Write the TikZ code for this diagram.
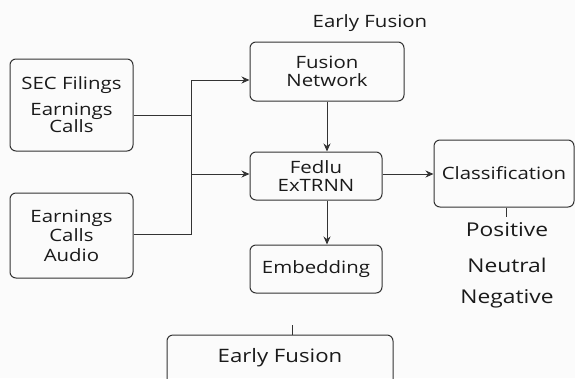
\documentclass[tikz,border=0pt]{standalone}
\usepackage{fontspec}
\setmainfont{Open Sans}[FakeStretch=1.2]
\usetikzlibrary{arrows.meta}
\definecolor{ln}{HTML}{333333}
\definecolor{tx}{HTML}{1A1A1A}
\definecolor{bg}{HTML}{FBFBFB}
\tikzset{
  box/.style={draw=ln, line width=1pt, rounded corners=6pt, align=center, text=tx, font=\fontsize{17}{18.5}\selectfont, inner sep=0pt},
  lbl/.style={text=tx, font=\fontsize{17}{19}\selectfont, inner sep=0pt},
  cls/.style={text=tx, font=\fontsize{19}{21}\selectfont, inner sep=0pt},
  conn/.style={draw=ln, line width=1pt},
  arr/.style={conn, -{Stealth[length=8pt,width=7pt]}}
}
\begin{document}
\begin{tikzpicture}[x=1pt,y=-1pt]
\fill[bg] (0,0) rectangle (575,378);
\useasboundingbox (0,0) rectangle (575,378);
\node[lbl] (title) at (370,23) {Early Fusion};
\node[box, minimum width=123pt, minimum height=92pt] (sec) at (71.5,105) {SEC Filings\\[7pt]Earnings\\[-1pt]Calls};
\node[box, minimum width=123pt, minimum height=85pt] (audio) at (71.5,235.5) {Earnings\\[1pt]Calls\\[1pt]Audio};
\node[box, minimum width=154pt, minimum height=59pt] (fusion) at (327,71.5) {Fusion\\Network};
\node[box, minimum width=132pt, minimum height=48pt] (fedlu) at (316,176) {Fedlu\\ExTRNN};
\node[box, minimum width=140pt, minimum height=67pt] (cls) at (504,173.5) {Classification};
\node[box, minimum width=132pt, minimum height=48pt] (emb) at (316,269) {Embedding};
\node[box, minimum width=226pt, minimum height=52pt] (early) at (280,361) {};
\node[lbl, font=\fontsize{18.5}{20}\selectfont] (earlyt) at (280,358) {Early Fusion};
\node[cls] (pos) at (507,230) {Positive};
\node[cls] (neu) at (507,265) {Neutral};
\node[cls] (neg) at (507,299) {Negative};
\coordinate (jt) at (191,80);
\coordinate (jm) at (191,115);
\coordinate (jf) at (191,174);
\coordinate (jb) at (191,234);
\coordinate (clsend) at (506,217);
\coordinate (eatop) at (292,325);
\draw[conn] (sec.east |- jm) -- (jm);
\draw[conn] (audio.east |- jb) -- (jb) -- (jt);
\draw[arr] (jt) -- (fusion.west |- jt);
\draw[arr] (jf) -- (fedlu.west |- jf);
\draw[arr] (fusion.south) -- (fusion.south |- fedlu.north);
\draw[arr] (fusion.south |- fedlu.south) -- (fusion.south |- emb.north);
\draw[arr] (fedlu.east |- 0,174) -- (cls.west |- 0,174);
\draw[conn] (cls.south -| clsend) -- (clsend);
\draw[conn] (eatop) -- (early.north -| eatop);
\end{tikzpicture}
\end{document}
